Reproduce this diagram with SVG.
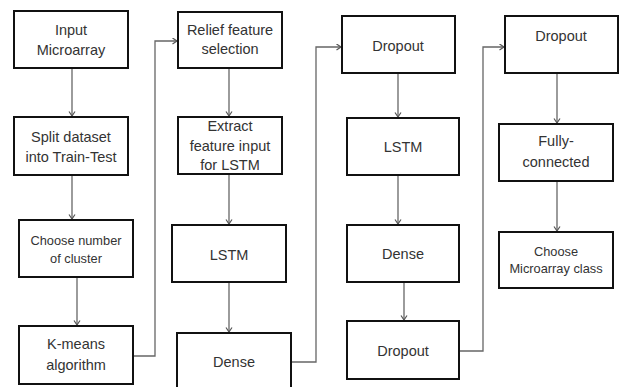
<svg xmlns="http://www.w3.org/2000/svg" width="625" height="387" viewBox="0 0 625 387">
<defs>
<marker id="arr" markerUnits="userSpaceOnUse" markerWidth="8" markerHeight="8" refX="5" refY="3.5" orient="auto">
<path d="M0.5,0.5 L5,3.5 L0.5,6.5" fill="none" stroke="#555" stroke-width="1.2"/>
</marker>
<style>
.box{fill:#fff;stroke:#111;stroke-width:2}
.t{font-family:"Liberation Sans",Arial,sans-serif;font-size:14.5px;fill:#333;text-anchor:middle}
.s{font-size:12.8px}
.c{fill:none;stroke:#666;stroke-width:1.3;marker-end:url(#arr)}
</style>
</defs>
<rect width="625" height="387" fill="#fff"/>
<g id="connectors">
<path class="c" d="M72,68 V116"/>
<path class="c" d="M72,175 V219"/>
<path class="c" d="M77,277 V325"/>
<path class="c" d="M133,356 H155 V41 H177"/>
<path class="c" d="M229,68 V116"/>
<path class="c" d="M229,174 V224"/>
<path class="c" d="M229,282 V332"/>
<path class="c" d="M291,362 H316 V47 H341"/>
<path class="c" d="M398,73 V117"/>
<path class="c" d="M398,175 V224"/>
<path class="c" d="M404,282 V320"/>
<path class="c" d="M459,351 H483 V47 H504"/>
<path class="c" d="M557,73 V123"/>
<path class="c" d="M557,181 V231"/>
</g>
<g id="input"><rect class="box" x="14" y="11" width="114" height="57"/><text class="t" x="71" y="35">Input</text><text class="t" x="71" y="55">Microarray</text></g>
<g id="split"><rect class="box" x="14" y="117" width="114" height="58"/><text class="t" x="71" y="142">Split dataset</text><text class="t" x="71" y="162">into Train-Test</text></g>
<g id="choose-cluster"><rect class="box" x="19" y="220" width="114" height="57"/><text class="t s" x="76" y="245">Choose number</text><text class="t s" x="76" y="263">of cluster</text></g>
<g id="kmeans"><rect class="box" x="19" y="326" width="114" height="58"/><text class="t" x="76" y="349">K-means</text><text class="t" x="76" y="370">algorithm</text></g>
<g id="relief"><rect class="box" x="178" y="12" width="104" height="56"/><text class="t" x="230" y="35">Relief feature</text><text class="t" x="230" y="54">selection</text></g>
<g id="extract"><rect class="box" x="178" y="117" width="104" height="57"/><text class="t" x="230" y="131">Extract</text><text class="t" x="230" y="151">feature input</text><text class="t" x="230" y="170">for LSTM</text></g>
<g id="lstm1"><rect class="box" x="172" y="225" width="114" height="57"/><text class="t" x="229" y="260">LSTM</text></g>
<g id="dense1"><rect class="box" x="177" y="333" width="114" height="60"/><text class="t" x="234" y="367">Dense</text></g>
<g id="dropout1"><rect class="box" x="342" y="16" width="113" height="57"/><text class="t" x="398" y="51">Dropout</text></g>
<g id="lstm2"><rect class="box" x="347" y="118" width="112" height="57"/><text class="t" x="403" y="152">LSTM</text></g>
<g id="dense2"><rect class="box" x="347" y="225" width="112" height="57"/><text class="t" x="403" y="259">Dense</text></g>
<g id="dropout2"><rect class="box" x="347" y="321" width="112" height="58"/><text class="t" x="403" y="356">Dropout</text></g>
<g id="dropout3"><rect class="box" x="505" y="16" width="113" height="57"/><text class="t" x="561" y="41">Dropout</text></g>
<g id="fully"><rect class="box" x="499" y="124" width="114" height="57"/><text class="t" x="556" y="146">Fully-</text><text class="t" x="556" y="167">connected</text></g>
<g id="choose-class"><rect class="box" x="499" y="232" width="114" height="56"/><text class="t s" x="556" y="256">Choose</text><text class="t s" x="556" y="273">Microarray class</text></g>
</svg>
